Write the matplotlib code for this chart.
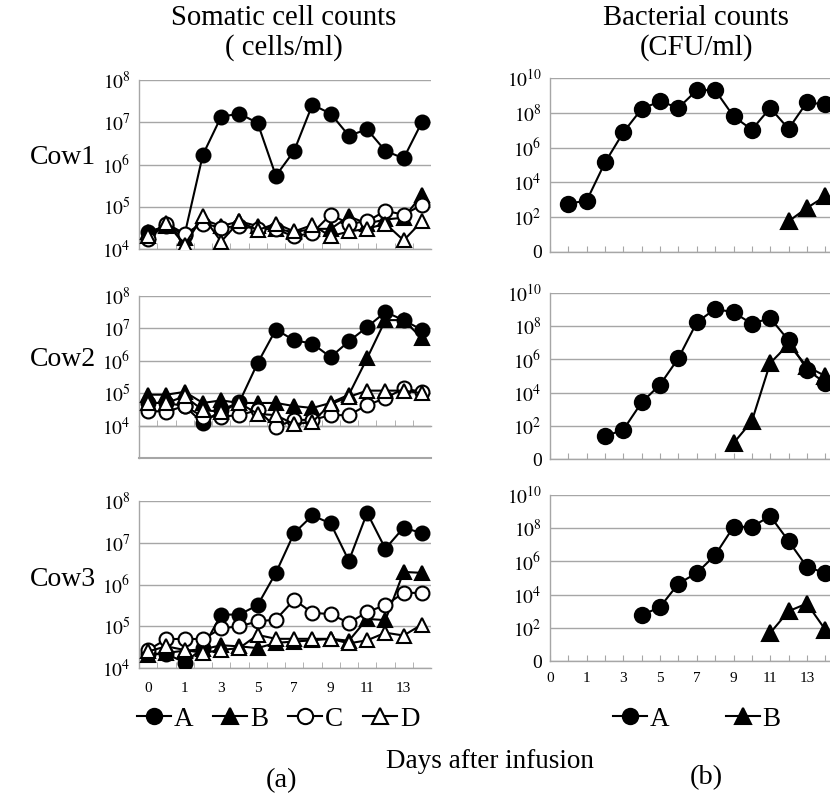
import matplotlib
matplotlib.use("Agg")
import matplotlib.pyplot as plt
from matplotlib.lines import Line2D
from matplotlib.ticker import FixedLocator

plt.rcParams['font.family'] = ['Liberation Serif', 'DejaVu Serif']
plt.rcParams['mathtext.fontset'] = 'stix'

# ---------------- data (category index along the x axis) ----------------
cats_left = list(range(16))
cats_right = list(range(16))
xtick_labels = ['0', '', '1', '', '3', '', '5', '', '7', '', '9', '', '11', '', '13', '']

# Somatic cell counts (cells/ml)
cow1_A = [2.5e4, 3.5e4, 2.2e4, 1.7e6, 1.35e7, 1.6e7, 9.6e6, 5.4e5, 2.1e6, 2.6e7, 1.6e7, 4.8e6, 6.8e6, 2.1e6, 1.4e6, 1.0e7]
cow1_B = [2.5e4, 3.5e4, 1.8e4, 5.0e4, 3.5e4, 4.5e4, 3.5e4, 3.0e4, 2.5e4, 3.0e4, 3.0e4, 5.9e4, 4.0e4, 5.0e4, 5.5e4, 1.9e5]
cow1_C = [1.7e4, 4.0e4, 2.3e4, 4.0e4, 3.2e4, 3.5e4, 3.0e4, 2.9e4, 2.0e4, 2.4e4, 6.5e4, 4.0e4, 4.5e4, 8.0e4, 6.5e4, 1.1e5]
cow1_D = [2.0e4, 4.2e4, 1.25e4, 5.9e4, 1.5e4, 4.5e4, 2.8e4, 4.0e4, 2.6e4, 3.7e4, 2.0e4, 2.6e4, 3.0e4, 4.0e4, 1.6e4, 4.5e4]

cow2_A = [5.0e4, 5.0e4, 4.0e4, 1.2e4, 3.0e4, 5.3e4, 8.5e5, 9.2e6, 4.3e6, 3.4e6, 1.3e6, 4.0e6, 1.1e7, 3.2e7, 1.8e7, 9.0e6]
cow2_B = [9.0e4, 9.0e4, 1.1e5, 5.0e4, 6.0e4, 5.0e4, 5.0e4, 5.0e4, 4.0e4, 3.5e4, 5.0e4, 9.0e4, 1.2e6, 1.8e7, 1.8e7, 5.0e6]
cow2_C = [2.8e4, 2.7e4, 4.0e4, 1.9e4, 1.9e4, 2.1e4, 3.0e4, 9.0e3, 1.5e4, 1.5e4, 2.1e4, 2.1e4, 4.3e4, 7.0e4, 1.4e5, 1.1e5]
cow2_D = [5.0e4, 5.0e4, 8.0e4, 3.0e4, 2.7e4, 5.0e4, 2.3e4, 2.1e4, 1.1e4, 1.3e4, 4.6e4, 7.7e4, 1.2e5, 1.2e5, 1.2e5, 1.0e5]

cow3_A = [2.2e4, 2.2e4, 1.35e4, 3.0e4, 1.9e5, 1.9e5, 3.2e5, 1.9e6, 1.7e7, 4.5e7, 2.9e7, 3.7e6, 5.2e7, 7.2e6, 2.3e7, 1.7e7]
cow3_B = [2.0e4, 2.3e4, 2.6e4, 2.8e4, 3.5e4, 3.3e4, 3.0e4, 4.0e4, 4.3e4, 4.6e4, 5.0e4, 4.5e4, 1.5e5, 1.4e5, 2.0e6, 1.9e6]
cow3_C = [2.7e4, 4.9e4, 5.0e4, 4.9e4, 8.9e4, 1.0e5, 1.3e5, 1.45e5, 4.3e5, 2.1e5, 1.95e5, 1.2e5, 2.2e5, 3.2e5, 6.3e5, 6.3e5]
cow3_D = [2.5e4, 3.3e4, 2.7e4, 2.3e4, 2.7e4, 3.0e4, 6.2e4, 5.0e4, 5.0e4, 5.0e4, 5.0e4, 3.9e4, 4.6e4, 7.0e4, 6.0e4, 1.1e5]

# Bacterial counts (CFU/ml); None = not detected / not plotted
N = None
bac1_A = [N, 6e2, 9e2, 1.4e5, 7.6e6, 1.7e8, 4.6e8, 1.9e8, 2e9, 2e9, 6.3e7, 1.07e7, 1.9e8, 1.2e7, 4e8, 3e8]
bac1_B = [N, N, N, N, N, N, N, N, N, N, N, N, N, 58, 3.4e2, 1.6e3]
bac2_A = [N, N, N, 23, 59, 2.6e3, 3e4, 1.2e6, 1.7e8, 1.1e9, 6.9e8, 1.4e8, 3.1e8, 1.4e7, 2.4e5, 3.8e4]
bac2_B = [N, N, N, N, N, N, N, N, N, N, 9, 1.9e2, 6e5, 8e6, 3.8e5, 1e5]
bac3_A = [N, N, N, N, N, 5.7e2, 1.8e3, 4.6e4, 2e5, 2.4e6, 1.2e8, 1.2e8, 5.4e8, 1.7e7, 4.7e5, 2e5]
bac3_B = [N, N, N, N, N, N, N, N, N, N, N, N, 49, 1e3, 2.9e3, 78]

somatic = [(cow1_A, cow1_B, cow1_C, cow1_D),
           (cow2_A, cow2_B, cow2_C, cow2_D),
           (cow3_A, cow3_B, cow3_C, cow3_D)]
bacterial = [(bac1_A, bac1_B), (bac2_A, bac2_B), (bac3_A, bac3_B)]
cow_names = ['Cow1', 'Cow2', 'Cow3']
series_names = ['A', 'B', 'C', 'D']

# ---------------- style ----------------
W, H = 830, 799
fig = plt.figure(figsize=(W / 100, H / 100), dpi=100)
GRID = '#a6a6a6'
styles = {
    'A': dict(marker='o', mfc='black', mec='black'),
    'B': dict(marker='^', mfc='black', mec='black'),
    'C': dict(marker='o', mfc='white', mec='black'),
    'D': dict(marker='^', mfc='white', mec='black'),
}

def px_axes(left, top, right, bottom):
    return fig.add_axes([left / W, 1 - bottom / H, (right - left) / W, (bottom - top) / H])

left_boxes = [(139, 80, 431, 249), (139, 296, 431, 458), (139, 501, 431, 668)]
right_boxes = [(550, 78, 830, 252), (550, 293, 830, 459), (550, 495, 830, 661)]
cow_label_y = [158, 360, 580]

def common(ax):
    ax.set_yscale('log')
    ax.grid(axis='y', color=GRID, lw=1.0)
    ax.set_axisbelow(True)
    for s in ['top', 'right']:
        ax.spines[s].set_visible(False)
    for s in ['left', 'bottom']:
        ax.spines[s].set_color(GRID)
        ax.spines[s].set_linewidth(1.0)
    ax.tick_params(axis='y', which='both', length=0, labelsize=14, pad=6)
    ax.yaxis.set_minor_locator(FixedLocator([]))

for i, (box, data) in enumerate(zip(left_boxes, somatic)):
    ax = px_axes(*box)
    common(ax)
    for name, vals in zip(series_names, data):
        st = styles[name]
        ax.plot(cats_left, vals, color='black', lw=1.5, marker=st['marker'],
                mfc=st['mfc'], mec=st['mec'], mew=1.5, ms=10, zorder=3)
    ax.set_xlim(-0.5, 15.5)
    if i == 1:
        ax.set_ylim(1e3, 1e8)
        ax.set_yticks([1e3, 1e4, 1e5, 1e6, 1e7, 1e8])
        ax.set_yticklabels([''] + [r'$10^{%d}$' % k for k in range(4, 9)])
        ax.spines['bottom'].set_position(('data', 1e4))
        ax.axhline(1e3, color=GRID, lw=1.5, clip_on=False, zorder=1)
    else:
        ax.set_ylim(1e4, 1e8)
        ax.set_yticks([1e4, 1e5, 1e6, 1e7, 1e8])
        ax.set_yticklabels([r'$10^{%d}$' % k for k in range(4, 9)])
    ax.set_xticks(cats_left)
    if i == 2:
        ax.set_xticklabels(xtick_labels)
    else:
        ax.set_xticklabels([''] * len(cats_left))
    ax.set_xticks([c + 0.5 for c in cats_left[:-1]], minor=True)
    ax.tick_params(axis='x', which='major', length=0, labelsize=11, pad=10)
    ax.tick_params(axis='x', which='minor', length=4, direction='in', color=GRID)
    fig.text(63 / W, 1 - cow_label_y[i] / H, cow_names[i], ha='center', va='center', fontsize=20)

for i, (box, data) in enumerate(zip(right_boxes, bacterial)):
    ax = px_axes(*box)
    common(ax)
    for name, vals in zip(['A', 'B'], data):
        st = styles[name]
        xs = [c for c, v in zip(cats_right, vals) if v is not None]
        ys = [v for v in vals if v is not None]
        ax.plot(xs, ys, color='black', lw=1.5, marker=st['marker'],
                mfc=st['mfc'], mec=st['mec'], mew=1.5, ms=11, zorder=3)
    ax.set_xlim(0, 280 / 18.35)
    ax.set_ylim(1, 1e10)
    ax.set_yticks([1, 1e2, 1e4, 1e6, 1e8, 1e10])
    ax.set_yticklabels(['0'] + [r'$10^{%d}$' % k for k in (2, 4, 6, 8, 10)])
    ax.set_xticks(cats_right)
    if i == 2:
        ax.set_xticklabels(xtick_labels)
    else:
        ax.set_xticklabels([''] * len(cats_right))
    ax.tick_params(axis='x', which='major', length=4, direction='in', color=GRID,
                   labelsize=11, pad=8)

# headers
fig.text(284 / W, 1 - 18 / H, 'Somatic cell counts', ha='center', va='center', fontsize=20.7)
fig.text(284 / W, 1 - 48 / H, '( cells/ml)', ha='center', va='center', fontsize=20.7)
fig.text(696 / W, 1 - 18 / H, 'Bacterial counts', ha='center', va='center', fontsize=20.7)
fig.text(696 / W, 1 - 48 / H, '(CFU/ml)', ha='center', va='center', fontsize=20.7)

# legends
def handle(name):
    st = styles[name]
    return Line2D([], [], color='black', lw=1.5, marker=st['marker'], mfc=st['mfc'],
                  mec=st['mec'], mew=1.5, ms=11)

fig.legend([handle(n) for n in series_names], series_names, loc='center',
           bbox_to_anchor=(278 / W, 1 - 719 / H), ncol=4, frameon=False, fontsize=19.5,
           handlelength=1.25, handletextpad=0.1, columnspacing=0.75, borderpad=0)
fig.legend([handle(n) for n in ['A', 'B']], ['A', 'B'], loc='center',
           bbox_to_anchor=(697 / W, 1 - 719 / H), ncol=2, frameon=False, fontsize=19.5,
           handlelength=1.25, handletextpad=0.1, columnspacing=2.1, borderpad=0)

fig.text(490 / W, 1 - 762 / H, 'Days after infusion', ha='center', va='center', fontsize=19.5)
fig.text(281 / W, 1 - 781 / H, '(a)', ha='center', va='center', fontsize=20.5)
fig.text(706 / W, 1 - 778 / H, '(b)', ha='center', va='center', fontsize=20.5)

fig.savefig('out.png', dpi=100)
